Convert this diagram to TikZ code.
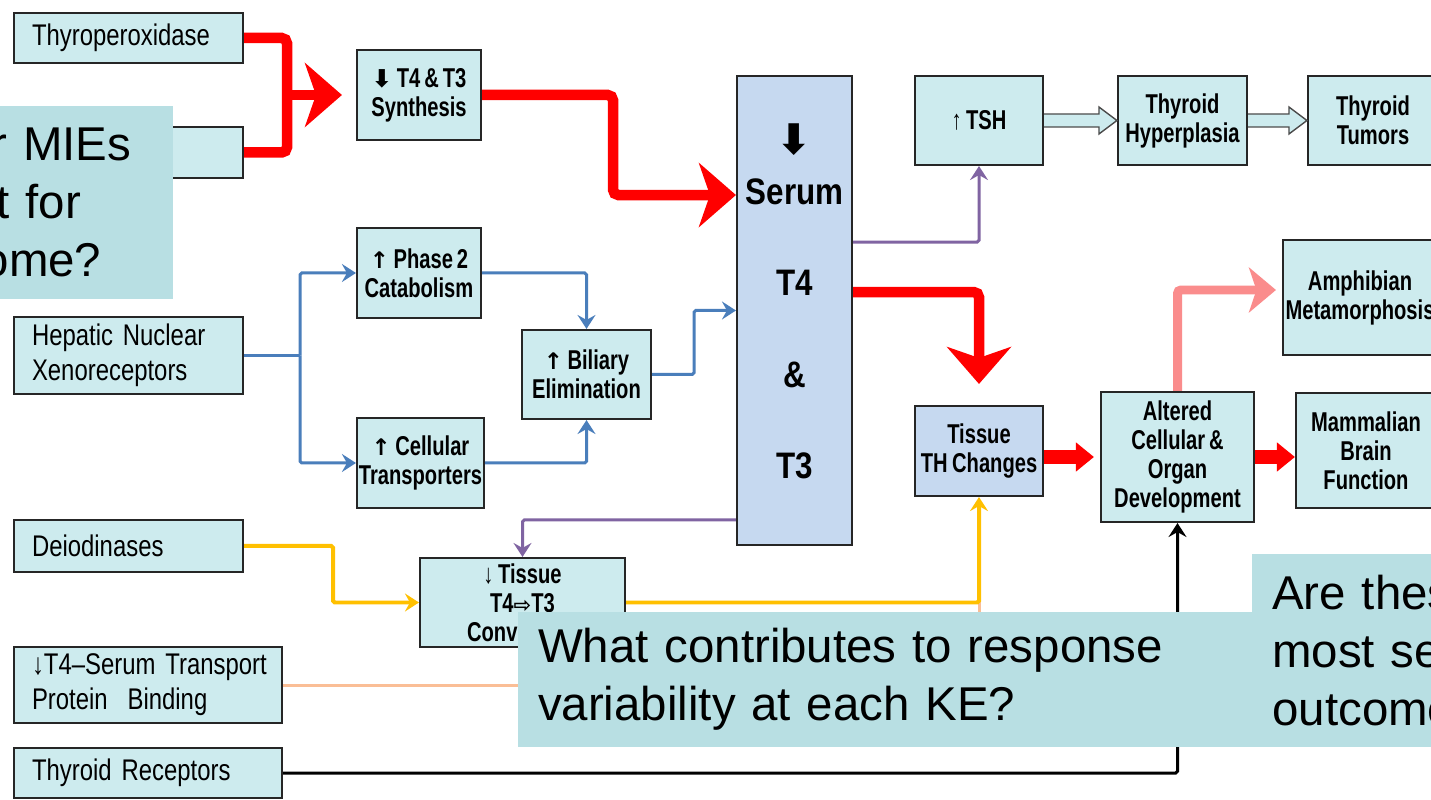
\documentclass[tikz,border=0pt]{standalone}
\usepackage{fontspec}
\setmainfont{Liberation Sans}
\newfontfamily\miefont[FakeStretch=0.8, WordSpace=0.7]{Liberation Sans}
\newfontfamily\kefont[FakeStretch=0.74, WordSpace=0.7]{Liberation Sans}
\newfontfamily\serumfont[FakeStretch=0.85]{Liberation Sans}
\newfontfamily\symfont{DejaVu Sans}
\usepackage{tikz}
\usetikzlibrary{arrows.meta,positioning,calc}

\definecolor{boxfill}{RGB}{205,235,238}
\definecolor{serumfill}{RGB}{198,217,240}
\definecolor{notefill}{RGB}{184,223,227}
\definecolor{aopblue}{RGB}{74,126,187}
\definecolor{aoppurple}{RGB}{128,100,162}
\definecolor{aopyellow}{RGB}{255,192,0}
\definecolor{aoppink}{RGB}{250,140,140}
\definecolor{aoppeach}{RGB}{250,190,150}

\newcommand{\up}{{\symfont\bfseries\fontsize{13}{13}\selectfont ↑}}

\tikzset{
  sz/.style 2 args={minimum width=#1*0.02cm, minimum height=#2*0.02cm},
  mie/.style={draw=black!85, line width=1.2pt, fill=boxfill, inner xsep=0.36cm, inner ysep=0pt,
    align=left, font=\miefont\fontsize{17}{20}\selectfont},
  ke/.style={draw=black!85, line width=1.2pt, fill=boxfill, inner sep=0pt, align=center,
    font=\kefont\bfseries\fontsize{15.5}{16.5}\selectfont},
  serumbox/.style={draw=black!85, line width=1.2pt, fill=serumfill, inner sep=0pt, align=center,
    font=\serumfont\bfseries\fontsize{21}{25}\selectfont},
  note/.style={fill=notefill, inner ysep=0pt, align=left, font=\fontsize{27}{33}\selectfont},
  redline/.style={draw=red, line width=0.21cm, rounded corners=3pt},
  bighead/.style={-{Stealth[length=0.74cm, width=1.28cm, inset=0.22cm]}},
  redsmall/.style={draw=red, line width=0.3cm, -{Triangle[length=0.36cm, width=0.56cm]}},
  pinkline/.style={draw=aoppink, line width=0.18cm, rounded corners=2pt,
    -{Stealth[length=0.54cm, width=0.9cm, inset=0.15cm]}, shorten >=0.12cm},
  thinhead/.style={-{Stealth[length=0.28cm, width=0.36cm, inset=0.1cm]}},
  blueline/.style={draw=aopblue, line width=0.06cm, rounded corners=1pt, thinhead},
  purpleline/.style={draw=aoppurple, line width=0.06cm, rounded corners=1pt, thinhead},
  yellowline/.style={draw=aopyellow, line width=0.08cm, rounded corners=1pt, thinhead},
  peachline/.style={draw=aoppeach, line width=0.06cm},
  blackline/.style={draw=black, line width=0.06cm, rounded corners=1pt, thinhead},
  hollow/.style={draw=black!70, line width=0.8pt, fill=boxfill}
}

\newcommand{\openarrow}[2]{%
  \draw[hollow] ($(#1.east)+(0,-6.5)$) -- ($(#2.west)+(-18,-6.5)$) -- ($(#2.west)+(-18,-13.5)$)
    -- (#2.west) -- ($(#2.west)+(-18,13.5)$) -- ($(#2.west)+(-18,6.5)$) -- ($(#1.east)+(0,6.5)$);}

\begin{document}
\begin{tikzpicture}[x=0.02cm, y=-0.02cm]
  \useasboundingbox (0,0) rectangle (1431,800);
  \clip (0,0) rectangle (1431,800);
  \fill[white] (0,0) rectangle (1431,800);

  \node (tpo) [mie, sz={229}{50}, text width=3.86cm] at (128.5,38) {Thyroperoxidase};
  \node (mie2) [mie, sz={229}{51}, text width=3.86cm] at (128.5,152.5) {};
  \node (hnx) [mie, sz={229}{77}, text width=3.86cm] at (128.5,355.5) {Hepatic Nuclear\\Xenoreceptors};
  \node (dio) [mie, sz={229}{52}, text width=3.86cm] at (128.5,546) {Deiodinases};
  \node (tsp) [mie, sz={268}{76}, text width=4.64cm] at (148,685) {\mbox{↓T4–Serum Transport}\\Protein\ \ Binding};
  \node (tr) [mie, sz={268}{50}, text width=4.64cm] at (148,773) {Thyroid Receptors};

  \node (synth) [ke, sz={124}{90}] at (419,95) {{\symfont\fontsize{14}{14}\selectfont ⬇}\,T4 \& T3\\Synthesis};
  \node (phase) [ke, sz={124}{90}] at (419,273) {\up\,Phase 2\\Catabolism};
  \node (cell) [ke, sz={127}{90}] at (420.5,463) {\up\,Cellular\\Transporters};
  \node (bili) [ke, sz={129}{89}] at (586.5,374.5) {\up\,Biliary\\Elimination};
  \node (conv) [ke, sz={205}{89}] at (522.5,602.5) {↓\,Tissue\\T4{\symfont\fontsize{12}{12}\selectfont ⇨}T3\\Conv\phantom{ersion}};

  \node (serum) [serumbox, sz={115}{469}] at (794.5,310.5)
    {{\symfont\fontsize{24}{24}\selectfont ⬇}\\[3.5pt]Serum\\[27pt]T4\\[27pt]\&\\[27pt]T3\rule[-10.8pt]{0pt}{10.8pt}};

  \node (tsh) [ke, sz={128}{89}] at (979,120.5) {↑\,TSH};
  \node (hyper) [ke, sz={129}{89}] at (1182.5,120.5) {Thyroid\\Hyperplasia};
  \node (tumor) [ke, sz={130}{89}] at (1373,120.5) {Thyroid\\Tumors};
  \node (amph) [ke, sz={154}{115}] at (1360,297.5) {Amphibian\\Metamorphosis};
  \node (tissue) [ke, fill=serumfill, sz={128}{90}] at (979,451) {Tissue\\TH\,Changes};
  \node (alter) [ke, sz={153}{130}] at (1177.5,457) {Altered\\Cellular \&\\Organ\\Development};
  \node (mammal) [ke, sz={140}{115}] at (1366,450.5) {Mammalian\\Brain\\Function};

  \coordinate (rj) at (287,95);
  \coordinate (bj) at (300,355.5);

  \draw[redline] (tpo.east) -| (rj) |- (mie2.east);
  \draw[redline, bighead, shorten >=0.28cm] (rj) -- (synth.west);
  \draw[redline, bighead] (synth.east) -- ++(131,0) |- ([yshift=2.31cm]serum.west);
  \draw[redline, bighead, shorten >=0.42cm] ([yshift=0.37cm]serum.east) -| (tissue.north);
  \draw[redsmall, shorten >=0.12cm] (tissue.east |- alter.west) -- (alter.west);
  \draw[redsmall] (alter.east) -- (alter.east -| mammal.west);
  \draw[pinkline] (alter.north) |- ([yshift=0.15cm]amph.west);

  \draw[blueline, -] (hnx.east) -- (bj);
  \draw[blueline] (bj) |- (phase.west);
  \draw[blueline] (bj) |- (cell.west);
  \draw[blueline] (phase.east) -| (bili.north);
  \draw[blueline] (cell.east) -| (bili.south);
  \draw[blueline] (bili.east) -- ++(42,0) |- (serum.west);

  \draw[purpleline] ([yshift=1.37cm]serum.east) -| (tsh.south);
  \draw[purpleline, {Stealth[length=0.28cm, width=0.36cm, inset=0.1cm]}-] (conv.north) |- ([yshift=-4.19cm]serum.west);

  \draw[peachline] (tsp.east) -| (tissue.south |- conv.east);
  \draw[yellowline] (dio.east) -- ++(89,0) |- (conv.west);
  \draw[yellowline] (conv.east) -| (tissue.south);
  \draw[blackline] (tr.east) -| (alter.south);

  \openarrow{tsh}{hyper}
  \openarrow{hyper}{tumor}

  \node (q1) [note, anchor=east, inner xsep=0pt, text width=3.58cm, sz={183}{193}] at (173,202.5)
    {r MIEs\\\hspace*{0.1cm}t for\\\hspace*{-0.18cm}ome?};
  \node (q2) [note, inner xsep=0.4cm, text width=13.88cm, sz={734}{135}] at (885,679.5)
    {What contributes to response\\variability at each KE?};
  \node (q3) [note, anchor=west, inner xsep=0.4cm, text width=4cm, sz={193}{193}] at (1252,650.5)
    {Are thes\\most se\\outcome};
\end{tikzpicture}
\end{document}
